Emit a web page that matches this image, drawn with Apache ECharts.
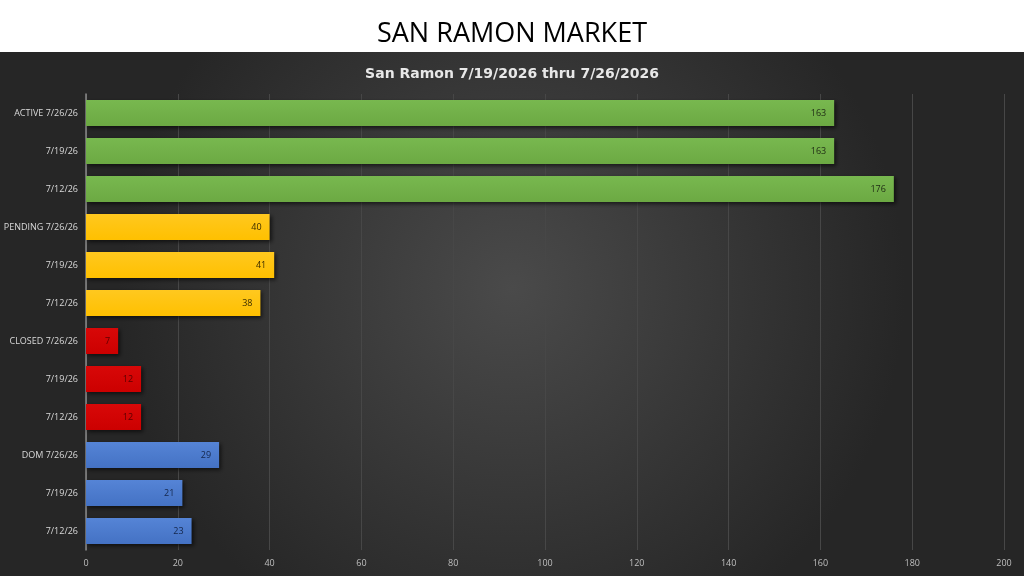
<!DOCTYPE html>
<html>
<head>
<meta charset="utf-8">
<script src="https://cdn.jsdelivr.net/npm/echarts@6/dist/echarts.min.js"></script>
<style>
  html, body { margin: 0; padding: 0; background: #fff; }
  #chart { width: 1024px; height: 576px; }
</style>
</head>
<body>
<div id="chart"></div>
<script>
// categories top to bottom
var categories = [
  'ACTIVE 7/26/26', '7/19/26', '7/12/26',
  'PENDING 7/26/26', '7/19/26', '7/12/26',
  'CLOSED 7/26/26', '7/19/26', '7/12/26',
  'DOM 7/26/26', '7/19/26', '7/12/26'
];
var activeVals = [163, 163, 176];
var pendingVals = [40, 41, 38];
var closedVals = [7, 12, 12];
var domVals = [29, 21, 23];
var xTicks = [0, 20, 40, 60, 80, 100, 120, 140, 160, 180, 200];

// colour per group: bar, top highlight, label text
var groups = [
  { vals: activeVals,  color: '#6ca943', light: '#78b84f', text: '#1e2a14' },
  { vals: pendingVals, color: '#ffc000', light: '#ffc81f', text: '#3a2c00' },
  { vals: closedVals,  color: '#cc0000', light: '#d80808', text: '#5a0000' },
  { vals: domVals,     color: '#4472c4', light: '#5584d6', text: '#14264a' }
];

var barData = [];
groups.forEach(function(g){
  g.vals.forEach(function(v){
    barData.push({
      value: v,
      itemStyle: {
        color: new echarts.graphic.LinearGradient(0, 0, 0, 1, [
          { offset: 0, color: g.light },
          { offset: 1, color: g.color }
        ])
      },
      label: { color: g.text }
    });
  });
});

var chart = echarts.init(document.getElementById('chart'));
chart.setOption({
  backgroundColor: '#ffffff',
  animation: false,
  graphic: [{
    type: 'rect',
    z: -10,
    silent: true,
    shape: { x: 0, y: 52, width: 1024, height: 524 },
    style: {
      fill: new echarts.graphic.RadialGradient(0.5, 0.45, 0.75, [
        { offset: 0, color: '#4a4a4a' },
        { offset: 1, color: '#262626' }
      ])
    }
  }],
  title: [{
    text: 'SAN RAMON MARKET',
    left: 'center',
    top: 16,
    textStyle: { fontFamily: 'Open Sans', fontWeight: 'normal', fontSize: 27, color: '#000' }
  }, {
    text: 'San Ramon 7/19/2026 thru 7/26/2026',
    left: 'center',
    top: 62,
    textStyle: { fontFamily: 'DejaVu Sans', fontWeight: 'bold', fontSize: 14, color: '#e8e8e8' }
  }],
  grid: { left: 86, right: 20, top: 94, bottom: 26, containLabel: false },
  xAxis: {
    type: 'value',
    min: xTicks[0],
    max: xTicks[xTicks.length - 1],
    interval: 20,
    axisLine: { show: false },
    axisTick: { show: false },
    axisLabel: { color: '#bfbfbf', fontSize: 9, fontFamily: 'Open Sans', margin: 9 },
    splitLine: { lineStyle: { color: '#474747', width: 1 } }
  },
  yAxis: {
    type: 'category',
    inverse: true,
    data: categories,
    axisLine: { show: true, lineStyle: { color: '#8a8a8a', width: 1.5 } },
    axisTick: { show: false },
    axisLabel: { color: '#d9d9d9', fontSize: 9, fontFamily: 'Open Sans', margin: 8 }
  },
  series: [{
    type: 'bar',
    data: barData,
    barWidth: 26,
    itemStyle: {
      shadowColor: 'rgba(0,0,0,0.6)',
      shadowBlur: 4,
      shadowOffsetX: 2,
      shadowOffsetY: 2
    },
    label: {
      show: true,
      position: 'insideRight',
      distance: 8,
      fontSize: 9,
      fontFamily: 'Open Sans'
    }
  }]
});
</script>
</body>
</html>
